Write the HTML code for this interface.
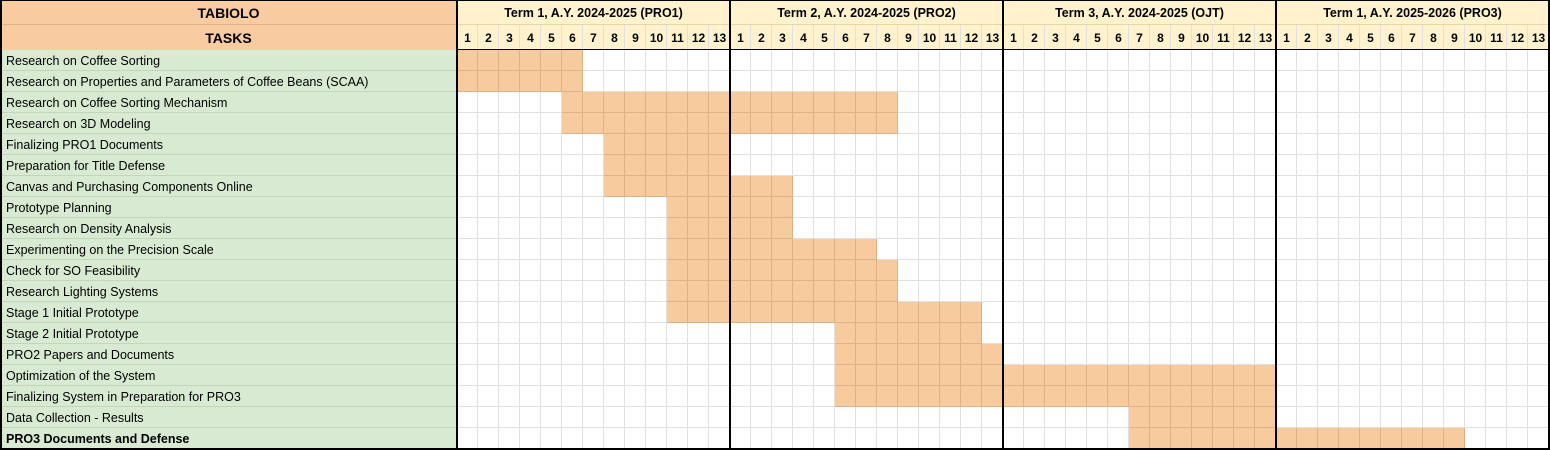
<!DOCTYPE html>
<html><head><meta charset="utf-8"><style>
html,body{margin:0;padding:0;background:#fff;}
#g{position:relative;width:1550px;height:450px;overflow:hidden;font-family:"Liberation Sans",Arial,sans-serif;}
.c{position:absolute;box-sizing:border-box;}
.task{background:#d9ead3;font-size:12.5px;color:#000;padding-left:6px;line-height:22px;border-bottom:1px solid #c3d6bc;white-space:nowrap;}
.gl{position:absolute;background:#e0e0e0;}
.bar{position:absolute;background:#f8cb9f;box-sizing:border-box;border-right:1px solid #deb188;border-bottom:1px solid #deb188;}
.num{font-size:12px;font-weight:bold;text-align:center;line-height:27px;background:#fff2cc;}
.th{font-weight:bold;text-align:center;}
.blk{position:absolute;background:#000;}
</style></head><body>
<div id="g"></div>
<script>
const tasks=["Research on Coffee Sorting","Research on Properties and Parameters of Coffee Beans (SCAA)","Research on Coffee Sorting Mechanism","Research on 3D Modeling","Finalizing PRO1 Documents","Preparation for Title Defense","Canvas and Purchasing Components Online","Prototype Planning","Research on Density Analysis","Experimenting on the Precision Scale","Check for SO Feasibility","Research Lighting Systems","Stage 1 Initial Prototype","Stage 2 Initial Prototype","PRO2 Papers and Documents","Optimization of the System","Finalizing System in Preparation for PRO3","Data Collection - Results","PRO3 Documents and Defense"];
const terms=["Term 1, A.Y. 2024-2025 (PRO1)","Term 2, A.Y. 2024-2025 (PRO2)","Term 3, A.Y. 2024-2025 (OJT)","Term 1, A.Y. 2025-2026 (PRO3)"];
const weeksPerTerm=13;
const barTask =[0,1,2,3,4,5,6,7,8,9,10,11,12,13,14,15,16,17,18];
const barStart=[1,1,6,6,8,8,8,11,11,11,11,11,11,19,19,19,19,33,33];
const barEnd  =[6,6,21,21,13,13,16,16,16,20,21,21,25,25,26,39,39,39,48];
const g=document.getElementById('g');
const X0=457,CW=21,Y0=50,RH=21,TW=CW*weeksPerTerm;
const xOf=w=>X0+(w-1)*CW;
const yOf=t=>Y0+t*RH;
function mk(cls,x,y,w,h,txt){const d=document.createElement('div');d.className=cls;d.style.left=x+'px';d.style.top=y+'px';d.style.width=w+'px';d.style.height=h+'px';if(txt!==undefined)d.textContent=txt;g.appendChild(d);return d;}
let e=mk('c th',0,0,X0,25,'TABIOLO');e.style.background='#f8cba0';e.style.fontSize='14px';e.style.lineHeight='26px';e.style.borderBottom='1px solid #e0b48a';


e=mk('c th',0,25,X0,25,'TASKS');e.style.background='#f8cba0';e.style.fontSize='14px';e.style.lineHeight='26px';


terms.forEach((t,i)=>{
  let d=mk('c th',X0+i*TW,0,TW,25,t);d.style.background='#fff2cc';d.style.fontSize='12.5px';d.style.lineHeight='27px';d.style.borderBottom='1px solid #e6d9a8';
  
  
  for(let k=0;k<weeksPerTerm;k++){
    let n=mk('c num',X0+i*TW+k*CW,25,CW,25,String(k+1));
    
    
  }
});
for(let w=1;w<=52;w++){mk('gl',xOf(w)+CW-1,25,1,425);}
for(let t=0;t<=tasks.length;t++){mk('gl',X0,yOf(t)-1,1550-X0,1);}
tasks.forEach((t,i)=>{
  let d=mk('c task',0,yOf(i),X0,RH,t);
  if(i===tasks.length-1)d.style.fontWeight='bold';
  
  
});
barTask.forEach((t,i)=>{
  const s=barStart[i],en=barEnd[i];
  for(let w=s;w<=en;w++){
    let b=mk('bar',xOf(w),yOf(t),CW,RH);
    
    
  }
});
mk('blk',X0-1,0,2,450);
for(let i=1;i<=4;i++)mk('blk',X0+i*TW-1,0,2,450);
mk('blk',0,0,1550,1);mk('blk',0,448,1550,2);mk('blk',0,0,2,450);mk('blk',1548,0,2,450);
mk('blk',X0,49,1550-X0,1);
</script>
</body></html>
